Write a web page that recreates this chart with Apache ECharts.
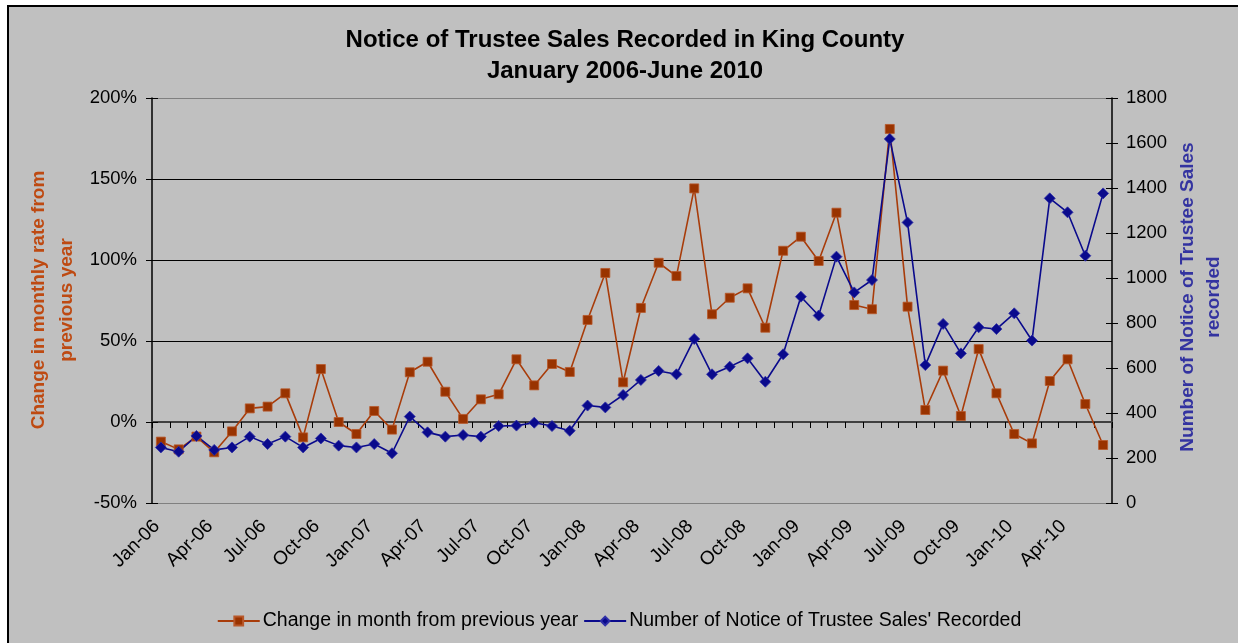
<!DOCTYPE html>
<html>
<head>
<meta charset="utf-8">
<script src="https://cdn.jsdelivr.net/npm/echarts@6/dist/echarts.min.js"></script>
<style>html,body{margin:0;padding:0;background:#fff;}#c{width:1238px;height:643px;}</style>
</head>
<body>
<div id="c"></div>
<script>
const months = ['Jan-06','Feb-06','Mar-06','Apr-06','May-06','Jun-06','Jul-06','Aug-06','Sep-06','Oct-06','Nov-06','Dec-06',
  'Jan-07','Feb-07','Mar-07','Apr-07','May-07','Jun-07','Jul-07','Aug-07','Sep-07','Oct-07','Nov-07','Dec-07',
  'Jan-08','Feb-08','Mar-08','Apr-08','May-08','Jun-08','Jul-08','Aug-08','Sep-08','Oct-08','Nov-08','Dec-08',
  'Jan-09','Feb-09','Mar-09','Apr-09','May-09','Jun-09','Jul-09','Aug-09','Sep-09','Oct-09','Nov-09','Dec-09',
  'Jan-10','Feb-10','Mar-10','Apr-10','May-10','Jun-10'];
const pctChange = [-12.1,-16.9,-9.0,-18.7,-5.8,8.4,9.5,17.7,-9.5,32.7,
  0.0,-7.4,6.8,-4.7,30.7,37.2,18.7,1.9,14.0,17.1,
  38.7,22.6,35.8,30.9,63.0,92.0,24.5,70.4,98.3,90.1,
  144.2,66.5,76.7,82.5,58.2,105.7,114.4,99.4,129.2,72.2,
  69.6,180.9,71.2,7.4,31.7,3.7,45.0,17.7,-7.4,-13.2,
  25.3,38.7,11.1,-14.2];
const noticeCount = [247,228,298,236,247,295,262,295,247,287,
  255,247,262,221,384,314,295,302,295,342,
  344,357,342,321,433,425,480,547,587,572,
  729,572,606,643,539,661,917,833,1095,936,
  991,1618,1247,613,796,665,781,773,843,722,
  1354,1292,1099,1376];
const seriesNames = ['Change in month from previous year', "Number of Notice of Trustee Sales' Recorded"];
const titleLines = ['Notice of Trustee Sales Recorded in King County', 'January 2006-June 2010'];
const leftAxisName = 'Change in monthly rate from\nprevious year';
const rightAxisName = 'Number of Notice of Trustee Sales\nrecorded';

const FONT = "'Liberation Sans', Arial, sans-serif";
const ORANGE = '#993300';
const BLUE = '#0A0A8C';

const chart = echarts.init(document.getElementById('c'), null, {renderer: 'canvas'});
const pctAxisBase = {type: 'value', min: -50, max: 200, interval: 50, position: 'left'};
const cntAxisBase = {type: 'value', min: 0, max: 1800, interval: 200, position: 'right'};

const option = {
  backgroundColor: '#C0C0C0',
  animation: false,
  textStyle: {fontFamily: FONT},
  title: {
    text: titleLines.join('\n'),
    left: 625, top: 25, padding: 0, textAlign: 'center',
    textStyle: {fontFamily: FONT, fontSize: 24, fontWeight: 'bold', color: '#000', lineHeight: 31}
  },
  grid: {left: 152, right: 126, top: 98, bottom: 140, containLabel: false},
  legend: {
    data: seriesNames,
    left: 'center', top: 606,
    itemWidth: 42, itemHeight: 11, itemGap: 5,
    textStyle: {fontFamily: FONT, fontSize: 19.5, color: '#000', padding: [0,0,0,-2]}
  },
  graphic: [
    {type: 'rect', shape: {x: 0, y: 0, width: 1238, height: 5}, style: {fill: '#fff'}, silent: true},
    {type: 'rect', shape: {x: 0, y: 0, width: 7, height: 643}, style: {fill: '#fff'}, silent: true},
    {type: 'rect', shape: {x: 7, y: 5, width: 1240, height: 2}, style: {fill: '#000'}, silent: true},
    {type: 'rect', shape: {x: 7, y: 5, width: 2, height: 650}, style: {fill: '#000'}, silent: true},
    {type: 'text', x: 53, y: 300, rotation: Math.PI / 2, silent: true,
      style: {text: leftAxisName, fill: '#BE4A12', font: 'bold 19px ' + FONT, textAlign: 'center', textVerticalAlign: 'middle', lineHeight: 28}},
    {type: 'text', x: 1201, y: 297, rotation: Math.PI / 2, silent: true,
      style: {text: rightAxisName, fill: '#3333A0', font: 'bold 19px ' + FONT, textAlign: 'center', textVerticalAlign: 'middle', lineHeight: 26}}
  ],
  xAxis: [
    {type: 'category', data: months, boundaryGap: true,
      axisLine: {show: true, onZero: true, onZeroAxisIndex: 0, lineStyle: {color: '#404040', width: 2}},
      axisTick: {show: true, interval: 0, length: 6, lineStyle: {color: '#000', width: 1}},
      axisLabel: {show: false}, splitLine: {show: false}},
    {type: 'category', data: months, boundaryGap: true,
      axisLine: {show: true, onZero: true, onZeroAxisIndex: 0, lineStyle: {color: '#404040', width: 2}},
      axisTick: {show: true, inside: true, interval: 0, length: 6, lineStyle: {color: '#000', width: 1}},
      axisLabel: {show: false}, splitLine: {show: false}},
    {type: 'category', data: months, boundaryGap: true, position: 'bottom',
      axisLine: {show: false, onZero: false},
      axisTick: {show: false},
      axisLabel: {show: true, interval: 2, rotate: 45, fontSize: 19, fontFamily: FONT, color: '#000', margin: 16, padding: [0, 6, 0, 0]},
      splitLine: {show: false}}
  ],
  yAxis: [
    Object.assign({}, pctAxisBase, {
      axisLine: {show: true, lineStyle: {color: '#000', width: 1.5}},
      axisTick: {show: true, length: 6, lineStyle: {color: '#000'}},
      axisLabel: {formatter: '{value}%', fontSize: 18.5, fontFamily: FONT, color: '#000', margin: 15},
      splitLine: {show: true, lineStyle: {color: ['#808080', '#000', '#000', '#000', '#000', '#808080'], width: 1}}
    }),
    Object.assign({}, cntAxisBase, {
      axisLine: {show: true, lineStyle: {color: '#000', width: 1.5}},
      axisTick: {show: true, length: 6, lineStyle: {color: '#000'}},
      axisLabel: {formatter: function (v) { return String(v); }, fontSize: 18.5, fontFamily: FONT, color: '#000', margin: 14},
      splitLine: {show: false}
    }),
    Object.assign({}, pctAxisBase, {
      axisLine: {show: false}, axisTick: {show: true, inside: true, length: 6, lineStyle: {color: '#000'}},
      axisLabel: {show: false}, splitLine: {show: false}
    }),
    Object.assign({}, cntAxisBase, {
      axisLine: {show: false}, axisTick: {show: true, inside: true, length: 6, lineStyle: {color: '#000'}},
      axisLabel: {show: false}, splitLine: {show: false}
    })
  ],
  series: [
    {name: seriesNames[0], type: 'line', xAxisIndex: 0, yAxisIndex: 0, data: pctChange,
      symbol: 'rect', symbolSize: 9, showAllSymbol: true,
      lineStyle: {color: '#A83C0A', width: 1.6},
      itemStyle: {color: ORANGE, borderColor: '#B8582A', borderWidth: 0.8}},
    {name: seriesNames[1], type: 'line', xAxisIndex: 0, yAxisIndex: 1, data: noticeCount,
      symbol: 'diamond', symbolSize: 11, showAllSymbol: true,
      lineStyle: {color: BLUE, width: 1.6},
      itemStyle: {color: BLUE, borderColor: '#3030A8', borderWidth: 0.8}}
  ]
};
chart.setOption(option);
</script>
</body>
</html>
